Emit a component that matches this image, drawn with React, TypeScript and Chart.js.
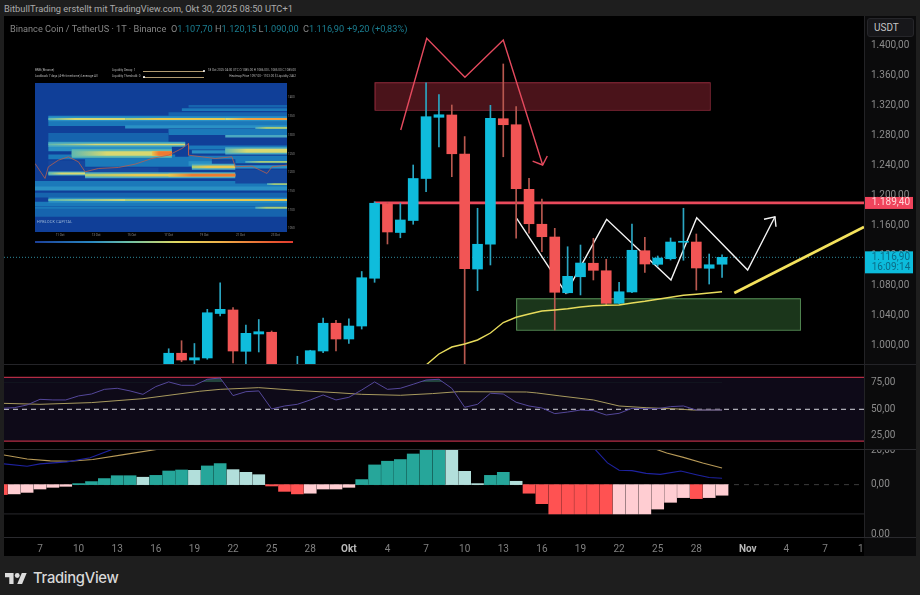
import React, { useEffect, useRef } from "react";
import { Chart, registerables } from "chart.js";

Chart.register(...registerables);

const FONT = "Roboto, 'Liberation Sans', sans-serif";

// ---- time axis (day number: 1 = 1 Sep; 31 = 1 Oct; 62 = 1 Nov)
const dayMin = 4.203;
const dayMax = 71.03;
const timeTicks = [7, 10, 13, 16, 19, 22, 25, 28, 31, 34, 37, 40, 43, 46, 49, 52, 55, 58, 62, 65, 68, 71];
const timeLabels = ["7", "10", "13", "16", "19", "22", "25", "28", "Okt", "4", "7", "10", "13", "16", "19", "22", "25", "28", "Nov", "4", "7", "10"];

// ---- candles
const candleDays = [17, 18, 19, 20, 21, 22, 23, 24, 25, 26, 27, 28, 29, 30, 31, 32, 33, 34, 35, 36, 37, 38, 39, 40, 41, 42, 43, 44, 45, 46, 47, 48, 49, 50, 51, 52, 53, 54, 55, 56, 57, 58, 59, 60];
const opens = [965, 989, 980, 982.7, 1042, 1046.7, 991.6, 1014.7, 1017, 960, 950, 968, 992, 1029, 1008, 1025.3, 1089, 1188, 1150, 1166, 1222, 1303.6, 1306.7, 1254.7, 1101.3, 1134.3, 1301.7, 1293.7, 1207.6, 1161, 1144, 1069.7, 1091, 1109, 1099, 1055.6, 1070.7, 1125.7, 1107.6, 1115, 1137, 1137.3, 1102.3, 1107.7];
const highs = [995, 1005.7, 1002, 1047.6, 1083, 1050, 1026.7, 1034, 1018.7, 968, 985, 993, 1036, 1033, 1035, 1098, 1191, 1189.7, 1189, 1240, 1349.7, 1334, 1320, 1277.8, 1182.3, 1319.6, 1374.7, 1317.8, 1222.3, 1194.7, 1155.6, 1131, 1133.3, 1142.3, 1114.3, 1083.6, 1161.3, 1143.6, 1118.7, 1142.7, 1182.3, 1148, 1121.3, 1120.15];
const lows = [960, 977.7, 970, 981, 1038.7, 976, 970, 990.7, 950, 940, 945, 966, 989.7, 992, 1002, 1021.3, 1083.6, 1134.7, 1143, 1161, 1204.4, 1264, 1224.4, 880, 1072.4, 1106.7, 1251, 1142.3, 1149, 1124.4, 1020, 1069, 1066.7, 1086.7, 1053.3, 1054.7, 1069.7, 1096.9, 1105, 1113.3, 1113, 1073.3, 1081.3, 1090];
const closes = [989, 980, 983, 1043, 1047.6, 992, 1015.6, 1017.7, 960, 950, 968, 992.4, 1029, 1008, 1025.3, 1089.7, 1189, 1150.7, 1166.7, 1222, 1304.4, 1307, 1255, 1101.7, 1134.3, 1302.3, 1293.7, 1208.4, 1161.7, 1144.4, 1070.3, 1091.6, 1109.3, 1099.6, 1055.6, 1071, 1126.3, 1108, 1116, 1137.3, 1138.3, 1102.7, 1107, 1116.9];

// ---- moving average on the price pane
const maDays = [37, 38, 39, 40, 41, 42, 43, 44, 45, 46, 47, 48, 49, 50, 51, 52, 53, 54, 55, 56, 57, 58, 59, 60];
const maValues = [973.3, 988, 997.3, 1001.3, 1006.7, 1016, 1030, 1037, 1041.3, 1045.3, 1046.7, 1048.4, 1050.7, 1052.4, 1053, 1053.3, 1056, 1058.3, 1061, 1063.6, 1066.3, 1067.7, 1069.3, 1071];

// ---- drawings on the price pane
const lastPrice = 1116.9;
const resistancePrice = 1189.4;
const resistanceDays = [33, 71.1];
const redPathDays = [35.03, 37.05, 40.02, 43, 46.06];
const redPathPrices = [1286.7, 1409, 1357, 1406.7, 1240];
const redHeadDays = [45.28, 46.06, 46.42];
const redHeadPrices = [1245.3, 1240, 1252];
const whitePathDays = [44.04, 47.87, 51.03, 56.03, 58.03, 61.99, 64.11];
const whitePathPrices = [1168.9, 1069.3, 1167.6, 1086.7, 1169.7, 1100, 1171];
const whiteHeadDays = [63.26, 64.11, 64.19];
const whiteHeadPrices = [1167.6, 1171, 1157.7];
const trendDays = [60.95, 71.03];
const trendPrices = [1069.3, 1157.3];
const redZone = { from: 33, to: 59.04, low: 1313.7, high: 1350.3 };
const greenZone = { from: 44, to: 66.05, low: 1020.4, high: 1062.3 };
const priceTicks = [1000, 1040, 1080, 1120, 1160, 1200, 1240, 1280, 1320, 1360, 1400];

// ---- RSI pane
const rsiDays = [4, 5, 6, 7, 8, 9, 10, 11, 12, 13, 14, 15, 16, 17, 18, 19, 20, 21, 22, 23, 24, 25, 26, 27, 28, 29, 30, 31, 32, 33, 34, 35, 36, 37, 38, 39, 40, 41, 42, 43, 44, 45, 46, 47, 48, 49, 50, 51, 52, 53, 54, 55, 56, 57, 58, 59, 60];
const rsiValues = [50.9, 51.5, 54.1, 59.4, 58.8, 58.8, 62.6, 64.4, 68.8, 69.8, 67.3, 64.1, 71.4, 75.8, 72.6, 72.6, 78.3, 79.5, 62.9, 66.6, 67.3, 50.3, 53.1, 54.7, 58.8, 63.5, 58.8, 61.3, 68.2, 75.8, 68.8, 69.8, 73.6, 77.6, 78.3, 69.8, 51.9, 54.7, 65.1, 64.4, 56.6, 53.1, 51.2, 45.9, 47.4, 49.3, 48.7, 44.6, 46.2, 50.9, 50.6, 50.6, 52.5, 53.1, 49.3, 49.3, 49.3];
const rsiMaDays = [4.2, 7, 11, 15, 19.4, 21, 24, 27.2, 30, 32, 35, 37.5, 39.5, 44.8, 45.6, 47.4, 50, 52, 54.1, 56.5, 57.7, 60];
const rsiMaValues = [55.6, 54.7, 56.3, 60, 67, 68.8, 70.4, 67.6, 65.7, 64.1, 63.2, 64.8, 66.6, 66.3, 65.4, 62.6, 58.8, 53.1, 51.5, 50.3, 49.3, 49.3];
const rsiTicks = [25, 50, 75];
const rsiLevels = [80, 50, 20];

// ---- MACD pane
const histDays = [4, 5, 6, 7, 8, 9, 10, 11, 12, 13, 14, 15, 16, 17, 18, 19, 20, 21, 22, 23, 24, 25, 26, 27, 28, 29, 30, 31, 32, 33, 34, 35, 36, 37, 38, 39, 40, 41, 42, 43, 44, 45, 46, 47, 48, 49, 50, 51, 52, 53, 54, 55, 56, 57, 58, 59, 60];
const histValues = [-5.9, -5.5, -4.6, -2.6, -1.6, -1, 0.6, 1.8, 3.6, 5.3, 5.3, 4.4, 5.5, 8.1, 8.7, 8.5, 11.1, 12.5, 8.9, 7.3, 5.9, -0.8, -4, -5.5, -5.1, -2.6, -2.6, -1.6, 3, 11.7, 13.9, 14.9, 18.2, 24, 24, 24, 7.9, 0.6, 5.5, 7.3, 2, -5.1, -11.3, -17.4, -17.4, -17.4, -17.4, -17.4, -17.4, -17.4, -17.4, -14.5, -10.5, -7.7, -8.3, -7.7, -6.3];
const histKinds = "RPPPPPTTTTTLTTTLTTLLLRRRPPPPTTTTTTTLLLTTLRRRRRRRPPPPPPRPP";
const macdDays = [4.2, 6, 7, 9.1, 10.9, 12.7, 14, 20, 30, 40, 48, 50.1, 51.1, 52, 53, 54.1, 55.2, 56.8, 58, 59, 60];
const macdValues = [12.3, 10.9, 12.3, 13.5, 16, 21.2, 28, 32, 30, 60, 30, 21.2, 12.9, 8.5, 8.3, 6.7, 6.1, 8.1, 5.9, 4.2, 3.8];
const signalDays = [4.2, 6, 7.8, 9.3, 11.1, 13.5, 16.3, 25, 35, 45, 54.8, 55.7, 57, 58.5, 60];
const signalValues = [17.6, 15.2, 14.1, 13.9, 14.9, 17.8, 21.2, 28, 30, 48, 21.2, 18.8, 16.2, 12.9, 9.9];
const macdTicks = [20, 0, -29.4];
const macdTickLabels = ["20,00", "0,00", "0,00"];
const macdFloor = -17.4;

// ---- inset heatmap: rows, ordered back to front
const heatRow = [138, 148, 163, 170, 190, 200, 215, 228, 232, 248, 265, 262, 275, 290, 292, 305, 310, 300, 320, 375, 385, 405, 432, 445, 458, 333, 320, 308, 350, 176, 420, 345, 280, 272, 253, 320, 340, 176, 176, 176, 203, 253, 272, 280, 280, 305, 320, 340, 345, 345, 372, 420, 420, 443];
const heatFrom = [490, 470, 430, 70, 70, 300, 430, 600, 70, 70, 70, 490, 500, 70, 490, 180, 490, 630, 630, 30, 30, 30, 30, 30, 30, 180, 70, 560, 630, 70, 70, 180, 140, 600, 70, 500, 70, 70, 300, 600, 690, 70, 600, 140, 380, 660, 500, 70, 180, 430, 725, 70, 300, 690];
const heatTo = [785, 785, 785, 785, 785, 785, 785, 785, 430, 480, 440, 785, 785, 450, 785, 560, 560, 785, 785, 785, 785, 785, 785, 785, 785, 400, 180, 630, 785, 785, 785, 630, 440, 785, 480, 630, 180, 300, 600, 785, 785, 480, 785, 440, 440, 785, 630, 180, 630, 630, 785, 785, 785, 785];
const heatWeight = [8, 8, 14, 8, 14, 10, 18, 8, 28, 6, 16, 12, 10, 14, 10, 30, 14, 18, 10, 24, 12, 14, 14, 10, 24, 20, 36, 14, 40, 16, 16, 18, 26, 22, 14, 18, 12, 6, 6, 6, 6, 5, 12, 14, 14, 5, 8, 6, 8, 8, 5, 6, 6, 6];
const heatLevel = [1, 2, 1, 1, 2, 3, 2, 4, 1, 3, 3, 2, 3, 2, 2, 2, 3, 2, 3, 2, 3, 1, 2, 2, 1, 0, 0, 0, 0, 3, 3, 4, 5, 4, 4, 4, 4, 7, 8, 9, 6, 7, 7, 7, 10, 6, 8, 7, 8, 10, 6, 7, 8, 6];
const heatPalette = ["#15479e", "#1664ae", "#1b79ba", "#2a90c4", "#4aa8c0", "#5fb8b0", "#a8cc78", "#d8d870", "#e8c850", "#f0a040", "#f07a30"];
const heatPriceDays = [30, 60, 70, 100, 130, 160, 180, 220, 280, 330, 380, 430, 470, 490, 490, 530, 570, 620, 630, 680, 725, 740, 785];
const heatPrices = [310, 355, 320, 300, 290, 305, 335, 325, 322, 312, 295, 285, 265, 250, 285, 290, 295, 290, 320, 318, 340, 320, 315];
const heatXTicks = [105, 213, 320, 430, 537, 645, 750];
const heatXLabels = ["11 Oct", "13 Oct", "15 Oct", "17 Oct", "19 Oct", "21 Oct", "23 Oct"];
const heatYTicks = [110, 168, 224, 281, 337, 393, 450, 506];
const heatYLabels = ["1400", "1350", "1300", "1250", "1200", "1150", "1100", "1050"];

// ---- legend text
const legendValues = [
  { left: 171, key: "O", value: "1.107,70" },
  { left: 215, key: "H", value: "1.120,15" },
  { left: 258.5, key: "L", value: "1.090,00" },
  { left: 303, key: "C", value: "1.116,90" },
];

const PANE_R = 860;
const fmt = (v: number) => v.toLocaleString("de-DE", { minimumFractionDigits: 2, maximumFractionDigits: 2 });
const xy = (xs: number[], ys: number[]) => xs.map((x, i) => ({ x, y: ys[i] }));
const AXIS_BG = "#0b0b0c";
const LABEL = "#8c8c8c";
const isMonth = (c: any) => isNaN(Number(c.tick?.label));

function paint() {
  return {
    id: "paint",
    beforeDraw(c: any) {
      const g = c.ctx;
      g.save();
      g.fillStyle = "#000";
      g.fillRect(0, 0, c.width, c.height);
      g.fillStyle = AXIS_BG;
      g.fillRect(PANE_R, 0, c.width - PANE_R, c.height);
      g.restore();
    },
  };
}

function xAxis(display = false): any {
  return { type: "linear", min: dayMin, max: dayMax, offset: false, display, grid: { display: false } };
}

function yAxis(min: number, max: number, ticks: number[], label: (v: number) => string): any {
  return {
    type: "linear",
    position: "right",
    min,
    max,
    afterBuildTicks: (s: any) => {
      s.ticks = ticks.map((value) => ({ value }));
    },
    afterFit: (s: any) => {
      s.width = 52;
      s.paddingTop = 0;
      s.paddingBottom = 0;
    },
    grid: { display: false, drawTicks: false },
    border: { display: true, color: "#232326" },
    ticks: { color: LABEL, font: { family: FONT, size: 10 }, padding: 7, autoSkip: false, callback: (v: number) => label(v) },
  };
}

const baseOptions: any = {
  responsive: false,
  maintainAspectRatio: false,
  animation: false,
  layout: { padding: 0 },
  events: [],
  plugins: { legend: { display: false }, tooltip: { enabled: false } },
};

function line(data: any[], color: any, width: number, order: number, extra: any = {}): any {
  return { type: "line", data, borderColor: color, borderWidth: width, pointRadius: 0, tension: 0, order, fill: false, ...extra };
}

function priceChart(canvas: HTMLCanvasElement) {
  const isUp = closes.map((c, i) => c >= opens[i]);
  const zones = {
    id: "zones",
    beforeDatasetsDraw(c: any) {
      const g = c.ctx;
      const { x, y } = c.scales;
      g.save();
      const box = (z: any, fill: string, stroke: string) => {
        const l = x.getPixelForValue(z.from);
        const r = x.getPixelForValue(z.to);
        const t = y.getPixelForValue(z.high);
        const b = y.getPixelForValue(z.low);
        g.fillStyle = fill;
        g.fillRect(l, t, r - l, b - t);
        g.strokeStyle = stroke;
        g.lineWidth = 1;
        g.strokeRect(l + 0.5, t + 0.5, r - l, b - t);
      };
      box(redZone, "#4a131a", "#8c2a3a");
      box(greenZone, "#1b361b", "#568f56");
      g.restore();
    },
    afterDraw(c: any) {
      const g = c.ctx;
      const y = c.scales.y;
      g.save();
      g.textAlign = "left";
      g.textBaseline = "middle";
      g.font = `10px ${FONT}`;
      const ry = y.getPixelForValue(resistancePrice);
      g.fillStyle = "#f0445c";
      g.fillRect(861, ry - 6, 48, 12);
      g.fillStyle = "#ffd5d8";
      g.fillText(fmt(resistancePrice), 867.7, ry);
      const ly = y.getPixelForValue(lastPrice);
      g.fillStyle = "#0cbcdc";
      g.fillRect(861, ly - 6, 48, 22);
      g.fillStyle = "#0b6b86";
      g.fillText(fmt(lastPrice), 867.7, ly);
      g.fillText("16:09:14", 867.7, ly + 10);
      g.restore();
    },
  };
  return new Chart(canvas, {
    type: "bar",
    plugins: [paint(), zones],
    data: {
      datasets: [
        line(xy(maDays, maValues), "#e8dc5c", 1.4, 0),
        {
          type: "bar",
          grouped: false,
          barThickness: 10,
          order: 1,
          data: candleDays.map((x, i) => ({ x, y: [opens[i], closes[i]] })),
          backgroundColor: isUp.map((u) => (u ? "#0fbcdc" : "#f25555")),
        },
        {
          type: "bar",
          grouped: false,
          barThickness: 1,
          order: 2,
          data: candleDays.map((x, i) => ({ x, y: [lows[i], highs[i]] })),
          backgroundColor: isUp.map((u) => (u ? "#2ba6c2" : "#b8584f")),
        },
        line(xy(whitePathDays, whitePathPrices), "#f4f4f4", 1.4, 3),
        line(xy(whiteHeadDays, whiteHeadPrices), "#f4f4f4", 1.4, 3),
        line(xy(redPathDays, redPathPrices), "#e54a5e", 1.4, 3),
        line(xy(redHeadDays, redHeadPrices), "#e54a5e", 1.4, 3),
        line(xy(resistanceDays, [resistancePrice, resistancePrice]), "#ea4a5c", 2.8, 4),
        line(xy(trendDays, trendPrices), "#f4e25c", 2.8, 3),
        line(xy([dayMin, dayMax], [lastPrice, lastPrice]), "#2f8a9c", 1, 5, { borderDash: [1, 2] }),
      ],
    },
    options: {
      ...baseOptions,
      scales: { x: xAxis(), y: yAxis(974.67, 1438.67, priceTicks, fmt) },
    },
  } as any);
}

function rsiChart(canvas: HTMLCanvasElement) {
  const band = {
    id: "band",
    beforeDatasetsDraw(c: any) {
      const g = c.ctx;
      const { y, x } = c.scales;
      const t = y.getPixelForValue(rsiLevels[0]);
      const b = y.getPixelForValue(rsiLevels[2]);
      g.save();
      g.fillStyle = "#0e0a18";
      g.fillRect(x.left, t, x.right - x.left, b - t);
      g.restore();
    },
  };
  const span = [dayMin, dayMax];
  return new Chart(canvas, {
    type: "line",
    plugins: [paint(), band],
    data: {
      datasets: [
        line(xy(rsiMaDays, rsiMaValues), "#a89a5e", 1, 1),
        line(xy(rsiDays, rsiValues), "#54479a", 1, 0, {
          fill: { value: 75.5, above: "rgba(48,105,85,0.6)", below: "rgba(0,0,0,0)" },
        }),
        line(xy(span, [rsiLevels[0], rsiLevels[0]]), "#b32c44", 1.2, 3),
        line(xy(span, [rsiLevels[2], rsiLevels[2]]), "#b32c44", 1.2, 3),
        line(xy(span, [rsiLevels[1], rsiLevels[1]]), "#d8d8e0", 1, 2, { borderDash: [5, 4] }),
      ],
    },
    options: {
      ...baseOptions,
      scales: { x: xAxis(), y: yAxis(12.55, 92.7, rsiTicks, fmt) },
    },
  } as any);
}

function macdChart(canvas: HTMLCanvasElement) {
  const colours: Record<string, string> = { T: "#26a69a", L: "#b2dfdb", R: "#ff5252", P: "#ffcdd2" };
  const span = [dayMin, dayMax];
  return new Chart(canvas, {
    type: "bar",
    plugins: [paint()],
    data: {
      datasets: [
        {
          type: "bar",
          grouped: false,
          barThickness: 12,
          order: 2,
          data: histDays.map((x, i) => ({ x, y: histValues[i] })),
          backgroundColor: histDays.map((_, i) => colours[histKinds[i]]),
        },
        line(xy(macdDays, macdValues), "#1e22a0", 1.1, 0),
        line(xy(signalDays, signalValues), "#b89a58", 1.1, 1),
        line(xy(span, [0, 0]), "#3c3c3c", 1, 3, { borderDash: [5, 5] }),
        line(xy(span, [macdFloor, macdFloor]), "#29292d", 1, 4),
      ],
    },
    options: {
      ...baseOptions,
      scales: {
        x: xAxis(),
        y: yAxis(-31.1, 21.16, macdTicks, (v) => macdTickLabels[macdTicks.indexOf(v)]),
      },
    },
  } as any);
}

function timeChart(canvas: HTMLCanvasElement) {
  return new Chart(canvas, {
    type: "line",
    plugins: [paint()],
    data: { datasets: [] },
    options: {
      ...baseOptions,
      scales: {
        x: {
          type: "linear",
          min: dayMin,
          max: dayMax,
          position: "bottom",
          afterBuildTicks: (s: any) => {
            s.ticks = timeTicks.map((value) => ({ value }));
          },
          afterFit: (s: any) => {
            s.height = 18;
            s.paddingLeft = 0;
            s.paddingRight = 0;
          },
          grid: { display: false, drawTicks: false },
          border: { display: false },
          ticks: {
            autoSkip: false,
            maxRotation: 0,
            padding: 5,
            callback: (v: number) => timeLabels[timeTicks.indexOf(v)],
            color: (c: any) => (isMonth(c) ? "#b8b8b8" : "#808080"),
            font: (c: any) => ({ family: FONT, size: 10, weight: isMonth(c) && c.tick ? "bold" : "normal" }),
          },
        },
        y: { display: false },
      },
    },
  } as any);
}

function heatChart(canvas: HTMLCanvasElement) {
  const tiny = { family: FONT, size: 3 };
  const rows = heatRow.map((y, i) => {
    const lvl = heatLevel[i];
    const from = heatFrom[i];
    const to = heatTo[i];
    // the bright rows grow out of the blue field from left to right
    const colour = (ctx: any) => {
      const chart = ctx.chart;
      const sx = chart.scales?.x;
      if (lvl < 6 || !sx) return heatPalette[lvl];
      const a = sx.getPixelForValue(from);
      const b = sx.getPixelForValue(to);
      if (!Number.isFinite(a) || !Number.isFinite(b)) return heatPalette[lvl];
      const gr = chart.ctx.createLinearGradient(a, 0, b, 0);
      gr.addColorStop(0, heatPalette[Math.max(lvl - 2, 4)]);
      gr.addColorStop(0.35, heatPalette[lvl]);
      gr.addColorStop(1, heatPalette[lvl]);
      return gr;
    };
    return line(xy([from, to], [y, y]), colour, heatWeight[i] / 3, 100 - i, { borderCapStyle: "butt" });
  });
  const bg = {
    id: "bg",
    beforeDraw(c: any) {
      const g = c.ctx;
      g.save();
      g.fillStyle = "#000";
      g.fillRect(0, 0, c.width, c.height);
      const a = c.chartArea;
      g.fillStyle = "#103f98";
      g.fillRect(a.left, a.top, a.right - a.left, a.bottom - a.top);
      g.restore();
    },
  };
  return new Chart(canvas, {
    type: "line",
    plugins: [bg],
    data: {
      datasets: [...rows, line(xy(heatPriceDays, heatPrices), "#b8604e", 0.8, 0)],
    },
    options: {
      ...baseOptions,
      scales: {
        x: {
          type: "linear",
          min: 30,
          max: 785,
          afterBuildTicks: (s: any) => {
            s.ticks = heatXTicks.map((value) => ({ value }));
          },
          afterFit: (s: any) => {
            s.height = 8;
            s.paddingLeft = 0;
            s.paddingRight = 0;
          },
          grid: { display: false, drawTicks: false },
          border: { display: false },
          ticks: { color: "#8a8a8a", font: tiny, padding: 1, maxRotation: 0, autoSkip: false, callback: (v: number) => heatXLabels[heatXTicks.indexOf(v)] },
        },
        y: {
          type: "linear",
          position: "right",
          reverse: true,
          min: 68,
          max: 516,
          afterBuildTicks: (s: any) => {
            s.ticks = heatYTicks.map((value) => ({ value }));
          },
          afterFit: (s: any) => {
            s.width = 13;
            s.paddingTop = 0;
            s.paddingBottom = 0;
          },
          grid: { display: false, drawTicks: false },
          border: { display: false },
          ticks: { color: "#8a8a8a", font: tiny, padding: 1, autoSkip: false, callback: (v: number) => heatYLabels[heatYTicks.indexOf(v)] },
        },
      },
    },
  } as any);
}

const abs = (left: number, top: number, extra: React.CSSProperties = {}): React.CSSProperties => ({
  position: "absolute",
  left,
  top,
  whiteSpace: "nowrap",
  ...extra,
});

function Tiny({ left, top, children, right }: { left?: number; top: number; right?: boolean; children: React.ReactNode }) {
  return (
    <div style={{ position: "absolute", top, left: right ? undefined : left, right: right ? 920 - (left as number) : undefined, font: `3px ${FONT}`, color: "#b5b5b5", whiteSpace: "nowrap" }}>
      {children}
    </div>
  );
}

export default function App() {
  const priceRef = useRef<HTMLCanvasElement>(null);
  const rsiRef = useRef<HTMLCanvasElement>(null);
  const macdRef = useRef<HTMLCanvasElement>(null);
  const timeRef = useRef<HTMLCanvasElement>(null);
  const heatRef = useRef<HTMLCanvasElement>(null);

  useEffect(() => {
    document.body.style.margin = "0";
    document.body.style.background = "#1e1e1e";
    const charts = [
      priceChart(priceRef.current!),
      rsiChart(rsiRef.current!),
      macdChart(macdRef.current!),
      timeChart(timeRef.current!),
      heatChart(heatRef.current!),
    ];
    return () => charts.forEach((c) => c.destroy());
  }, []);

  const canvasAt = (left: number, top: number): React.CSSProperties => ({ position: "absolute", left, top, display: "block" });
  const legendFont = { fontSize: 9.2, lineHeight: "13px" };

  return (
    <div style={{ position: "absolute", left: 0, top: 0, width: 920, height: 595, background: "#1e1e1e", overflow: "hidden", fontFamily: FONT }}>
      <div style={abs(4, 3, { fontSize: 9.3, lineHeight: "12px", color: "#ababab" })}>
        BitbullTrading erstellt mit TradingView.com, Okt 30, 2025 08:50 UTC+1
      </div>

      <canvas ref={priceRef} width={912} height={348} style={canvasAt(4, 16)} />
      <canvas ref={rsiRef} width={912} height={85} style={canvasAt(4, 364)} />
      <canvas ref={macdRef} width={912} height={88} style={canvasAt(4, 449)} />
      <canvas ref={timeRef} width={860} height={19} style={canvasAt(4, 537)} />
      <div style={abs(864, 537, { width: 52, height: 19, background: AXIS_BG })} />
      <div style={abs(4, 364, { width: 912, height: 1, background: "#242428" })} />
      <div style={abs(4, 449, { width: 912, height: 1, background: "#2a2a2e" })} />
      <div style={abs(4, 537, { width: 912, height: 1, background: "#2a2a2e" })} />

      {/* legend */}
      <div style={abs(10, 22, { ...legendFont, color: "#868686" })}>Binance Coin / TetherUS · 1T · Binance</div>
      {legendValues.map((l) => (
        <div key={l.key} style={abs(l.left, 22, { ...legendFont, color: "#868686" })}>
          {l.key}
          <span style={{ color: "#1b7f92" }}>{l.value}</span>
        </div>
      ))}
      <div style={abs(347, 22, { ...legendFont, color: "#1b7f92" })}>+9,20 (+0,83%)</div>

      {/* currency button */}
      <div style={abs(867, 18, { width: 47, height: 19, boxSizing: "border-box", background: "#17171a", border: "1px solid #26262a", borderRadius: 3, color: "#c4c4c4", fontSize: 10, lineHeight: "17px", paddingLeft: 6 })}>USDT</div>

      {/* inset heatmap */}
      <canvas ref={heatRef} width={265} height={157} style={{ ...canvasAt(35, 83), filter: "blur(0.35px)" }} />
      <Tiny left={35} top={68}>BNB (Binance)</Tiny>
      <Tiny left={35} top={74}>Lookback 7 days (4-Hr timeframe) Leverage All</Tiny>
      <Tiny left={112} top={68}>Liquidity Decay: 1</Tiny>
      <Tiny left={112} top={74}>Liquidity Threshold: 0</Tiny>
      <div style={abs(143, 70.5, { width: 61, height: 0.7, background: "#b09a70" })} />
      <div style={abs(143, 77, { width: 61, height: 0.7, background: "#b09a70" })} />
      <div style={abs(202.5, 69.5, { width: 2.4, height: 2.4, background: "#fff", borderRadius: 2 })} />
      <div style={abs(143, 76, { width: 2.4, height: 2.4, background: "#fff", borderRadius: 2 })} />
      <Tiny left={296} top={68} right>18 Oct 2025 04:00 UTC O 1085.00 H 1086.00 L 1085.00 C 1085.00</Tiny>
      <Tiny left={296} top={74} right>Heatmap Price 1097.00 - 1103.00 $ Liquidity 2462</Tiny>
      <div style={abs(37, 220, { font: `3.7px ${FONT}`, color: "#9fbad8", letterSpacing: 0.25 })}>HYBLOCK CAPITAL</div>
      <div style={abs(35, 241, { width: 258, height: 2.4, background: "linear-gradient(90deg,#1b3f98 0%,#2a88c0 22%,#6cc0a8 36%,#e0d860 55%,#eeb048 72%,#e85a30 92%,#e03a30 100%)" })} />

      {/* brand */}
      <svg width="22" height="11" viewBox="0 4 36 18" style={abs(5, 573)}>
        <path fill="#dcdcdc" d="M14 22H7V11H0V4h14v18zM28 22h-8l7.5-18h8L28 22z" />
        <circle fill="#dcdcdc" cx="20" cy="8" r="4" />
      </svg>
      <div style={abs(33, 569, { fontFamily: "Inter, sans-serif", fontSize: 14.8, fontWeight: 500, lineHeight: "19px", letterSpacing: -0.3, color: "#d8d8d8" })}>TradingView</div>
    </div>
  );
}
